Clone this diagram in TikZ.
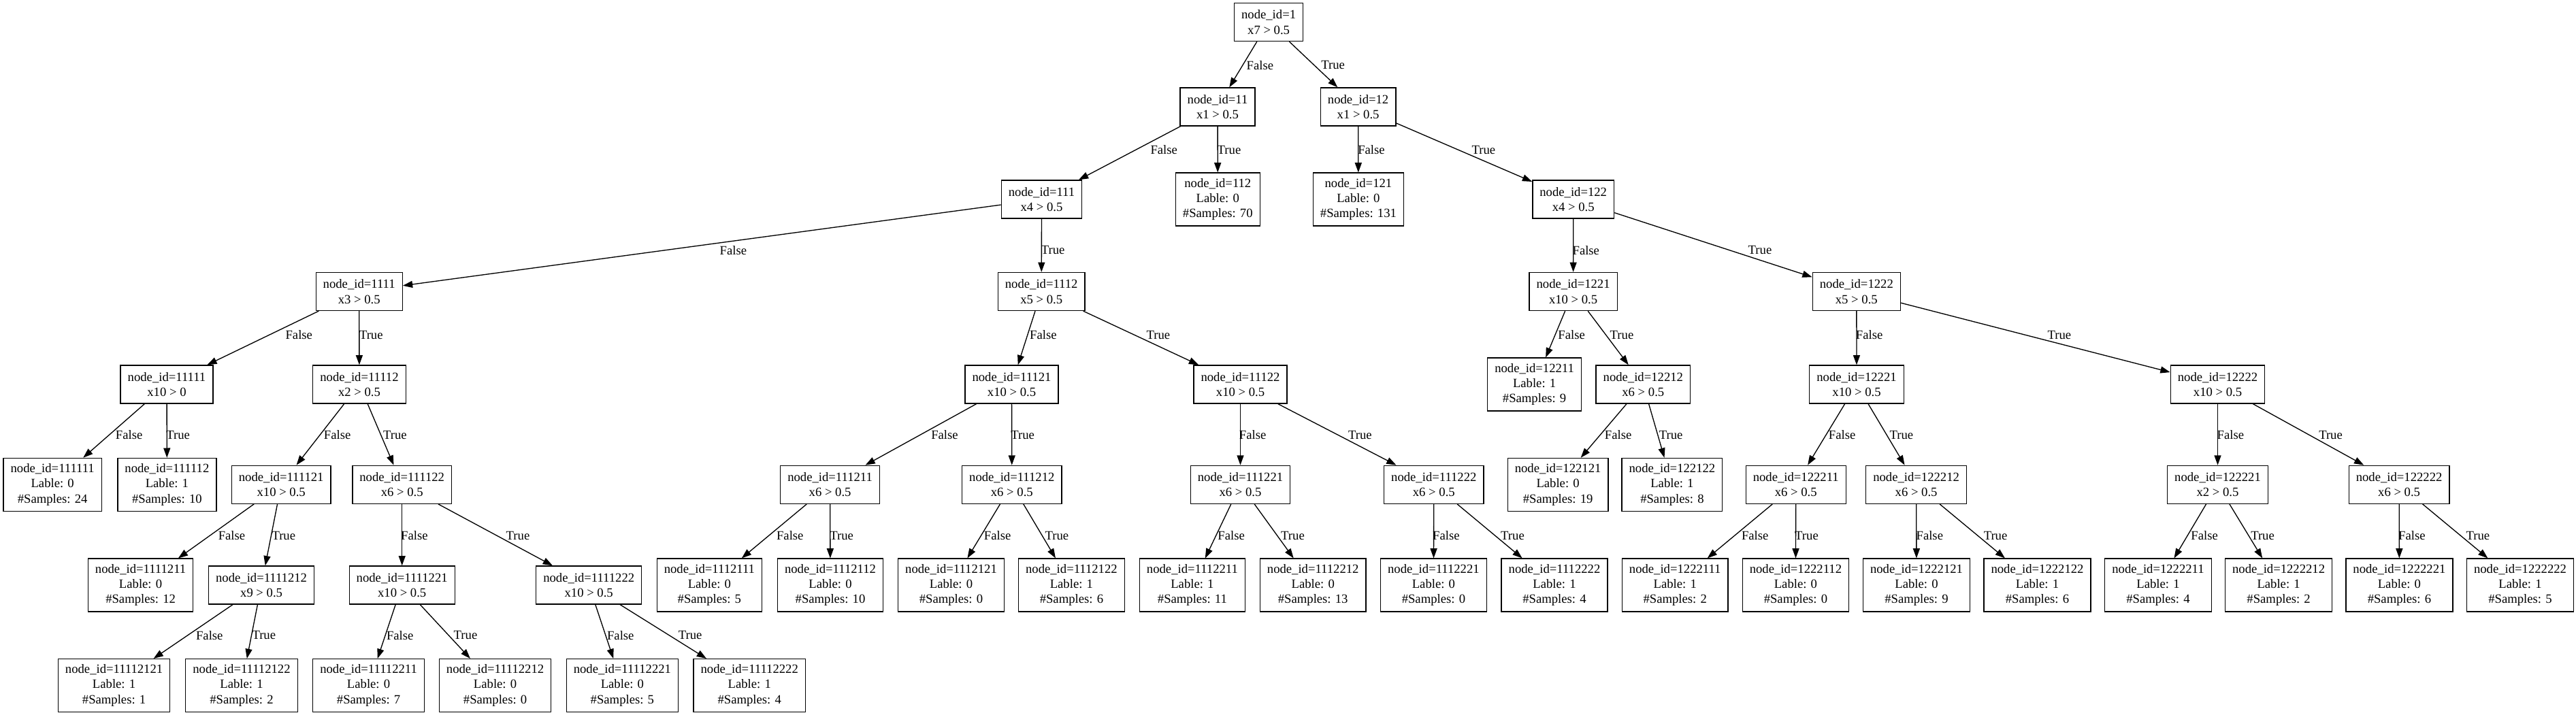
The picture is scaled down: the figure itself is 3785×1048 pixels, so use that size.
\documentclass[tikz,border=0pt]{standalone}
\usepackage{fontspec}
\setmainfont{Liberation Serif}
\usetikzlibrary{arrows.meta}
\newcommand\gvfont{\fontsize{14pt}{16.8pt}\selectfont}
\tikzset{
  inode/.style={draw=black, line width=1pt, align=center, font=\gvfont, inner xsep=7.92pt, inner ysep=0pt, minimum height=42pt},
  leaf/.style={inode, minimum height=58.3pt},
  lbl/.style={font=\gvfont, inner sep=0pt},
  edgearrow/.style={-{Triangle[length=10.7pt,width=7.5pt]}, line width=1pt, line join=miter}
}
\begin{document}
\begin{tikzpicture}[x=0.75pt,y=-0.75pt]
\fill[white] (0,0) rectangle (3785,1048);
\useasboundingbox (0,0) rectangle (3785,1048);
\def\rA{32.5}\def\rB{157}\def\rC{293}\def\rD{428.5}
\def\rE{565}\def\rF{712.3}\def\rG{860}\def\rH{1007.5}
% rank 0
\node[inode] (n1) at (1864.1,\rA) {node\_id=1\\x7 > 0.5};
% rank 1
\node[inode] (n11) at (1789,\rB) {node\_id=11\\x1 > 0.5};
\node[inode] (n12) at (1995.6,\rB) {node\_id=12\\x1 > 0.5};
% rank 2
\node[inode] (n111) at (1530.5,\rC) {node\_id=111\\x4 > 0.5};
\node[leaf] (n112) at (1789.3,\rC) {node\_id=112\\Lable: 0\\\#Samples: 70};
\node[leaf] (n121) at (1995.9,\rC) {node\_id=121\\Lable: 0\\\#Samples: 131};
\node[inode] (n122) at (2311.7,\rC) {node\_id=122\\x4 > 0.5};
% rank 3
\node[inode] (n1111) at (527.7,\rD) {node\_id=1111\\x3 > 0.5};
\node[inode] (n1112) at (1530.2,\rD) {node\_id=1112\\x5 > 0.5};
\node[inode] (n1221) at (2311.6,\rD) {node\_id=1221\\x10 > 0.5};
\node[inode] (n1222) at (2727.8,\rD) {node\_id=1222\\x5 > 0.5};
% rank 4
\node[inode] (n11111) at (245,\rE) {node\_id=11111\\x10 > 0};
\node[inode] (n11112) at (528,\rE) {node\_id=11112\\x2 > 0.5};
\node[inode] (n11121) at (1486.5,\rE) {node\_id=11121\\x10 > 0.5};
\node[inode] (n11122) at (1822.5,\rE) {node\_id=11122\\x10 > 0.5};
\node[leaf] (n12211) at (2254.6,\rE) {node\_id=12211\\Lable: 1\\\#Samples: 9};
\node[inode] (n12212) at (2414.3,\rE) {node\_id=12212\\x6 > 0.5};
\node[inode] (n12221) at (2728,\rE) {node\_id=12221\\x10 > 0.5};
\node[inode] (n12222) at (3258.5,\rE) {node\_id=12222\\x10 > 0.5};
% rank 5
\node[leaf] (n111111) at (77.2,\rF) {node\_id=111111\\Lable: 0\\\#Samples: 24};
\node[leaf] (n111112) at (245.4,\rF) {node\_id=111112\\Lable: 1\\\#Samples: 10};
\node[inode] (n111121) at (413.2,\rF) {node\_id=111121\\x10 > 0.5};
\node[inode] (n111122) at (590.7,\rF) {node\_id=111122\\x6 > 0.5};
\node[inode] (n111211) at (1219.6,\rF) {node\_id=111211\\x6 > 0.5};
\node[inode] (n111212) at (1486.8,\rF) {node\_id=111212\\x6 > 0.5};
\node[inode] (n111221) at (1822.5,\rF) {node\_id=111221\\x6 > 0.5};
\node[inode] (n111222) at (2106.8,\rF) {node\_id=111222\\x6 > 0.5};
\node[leaf] (n122121) at (2289.1,\rF) {node\_id=122121\\Lable: 0\\\#Samples: 19};
\node[leaf] (n122122) at (2456.9,\rF) {node\_id=122122\\Lable: 1\\\#Samples: 8};
\node[inode] (n122211) at (2638.7,\rF) {node\_id=122211\\x6 > 0.5};
\node[inode] (n122212) at (2815.6,\rF) {node\_id=122212\\x6 > 0.5};
\node[inode] (n122221) at (3258.5,\rF) {node\_id=122221\\x2 > 0.5};
\node[inode] (n122222) at (3525.1,\rF) {node\_id=122222\\x6 > 0.5};
% rank 6
\node[leaf] (n1111211) at (206.6,\rG) {node\_id=1111211\\Lable: 0\\\#Samples: 12};
\node[inode] (n1111212) at (384.1,\rG) {node\_id=1111212\\x9 > 0.5};
\node[inode] (n1111221) at (590.7,\rG) {node\_id=1111221\\x10 > 0.5};
\node[inode] (n1111222) at (865.2,\rG) {node\_id=1111222\\x10 > 0.5};
\node[leaf] (n1112111) at (1042.4,\rG) {node\_id=1112111\\Lable: 0\\\#Samples: 5};
\node[leaf] (n1112112) at (1220,\rG) {node\_id=1112112\\Lable: 0\\\#Samples: 10};
\node[leaf] (n1112121) at (1397.5,\rG) {node\_id=1112121\\Lable: 0\\\#Samples: 0};
\node[leaf] (n1112122) at (1574.4,\rG) {node\_id=1112122\\Lable: 1\\\#Samples: 6};
\node[leaf] (n1112211) at (1751.9,\rG) {node\_id=1112211\\Lable: 1\\\#Samples: 11};
\node[leaf] (n1112212) at (1929.2,\rG) {node\_id=1112212\\Lable: 0\\\#Samples: 13};
\node[leaf] (n1112221) at (2106.4,\rG) {node\_id=1112221\\Lable: 0\\\#Samples: 0};
\node[leaf] (n1112222) at (2284,\rG) {node\_id=1112222\\Lable: 1\\\#Samples: 4};
\node[leaf] (n1222111) at (2461.2,\rG) {node\_id=1222111\\Lable: 1\\\#Samples: 2};
\node[leaf] (n1222112) at (2638.4,\rG) {node\_id=1222112\\Lable: 0\\\#Samples: 0};
\node[leaf] (n1222121) at (2816,\rG) {node\_id=1222121\\Lable: 0\\\#Samples: 9};
\node[leaf] (n1222122) at (2993.5,\rG) {node\_id=1222122\\Lable: 1\\\#Samples: 6};
\node[leaf] (n1222211) at (3171,\rG) {node\_id=1222211\\Lable: 1\\\#Samples: 4};
\node[leaf] (n1222212) at (3348.1,\rG) {node\_id=1222212\\Lable: 1\\\#Samples: 2};
\node[leaf] (n1222221) at (3525.4,\rG) {node\_id=1222221\\Lable: 0\\\#Samples: 6};
\node[leaf] (n1222222) at (3703,\rG) {node\_id=1222222\\Lable: 1\\\#Samples: 5};
% rank 7
\node[leaf] (n11112121) at (167.6,\rH) {node\_id=11112121\\Lable: 1\\\#Samples: 1};
\node[leaf] (n11112122) at (355,\rH) {node\_id=11112122\\Lable: 1\\\#Samples: 2};
\node[leaf] (n11112211) at (541.6,\rH) {node\_id=11112211\\Lable: 0\\\#Samples: 7};
\node[leaf] (n11112212) at (727.6,\rH) {node\_id=11112212\\Lable: 0\\\#Samples: 0};
\node[leaf] (n11112221) at (914.4,\rH) {node\_id=11112221\\Lable: 0\\\#Samples: 5};
\node[leaf] (n11112222) at (1101.2,\rH) {node\_id=11112222\\Lable: 1\\\#Samples: 4};
% edges
\foreach \p/\c in {1/11,1/12,11/111,11/112,12/121,12/122,
  111/1111,111/1112,122/1221,122/1222,
  1111/11111,1111/11112,1112/11121,1112/11122,1221/12211,1221/12212,1222/12221,1222/12222,
  11111/111111,11111/111112,11112/111121,11112/111122,11121/111211,11121/111212,11122/111221,11122/111222,
  12212/122121,12212/122122,12221/122211,12221/122212,12222/122221,12222/122222,
  111121/1111211,111121/1111212,111122/1111221,111122/1111222,111211/1112111,111211/1112112,
  111212/1112121,111212/1112122,111221/1112211,111221/1112212,111222/1112221,111222/1112222,
  122211/1222111,122211/1222112,122212/1222121,122212/1222122,122221/1222211,122221/1222212,
  122222/1222221,122222/1222222,
  1111212/11112121,1111212/11112122,1111221/11112211,1111221/11112212,1111222/11112221,1111222/11112222}
  {\draw[edgearrow] (n\p) -- (n\c);}
% edge labels
\foreach \nm/\lx/\ly/\tx in {
  a1/1851.4/95.7/False, a2/1958.6/95.7/True,
  b1/1710.2/220.3/False, b2/1806/220.3/True, b3/2015/220.3/False, b4/2179.8/220.3/True,
  c1/1077.4/367.7/False, c2/1547.2/367.7/True, c3/2330.3/367.7/False, c4/2586/367.7/True,
  d1/439.3/492.2/False, d2/545.3/492.2/True, d3/1532.9/492.2/False, d4/1701.9/492.2/True,
  d5/2309.1/492.2/False, d6/2383/492.2/True, d7/2746.6/492.2/False, d8/3025.9/492.2/True,
  e1/189.6/639.5/False, e2/261.7/639.5/True, e3/495.6/639.5/False, e4/580.4/639.5/True,
  e5/1388/639.5/False, e6/1502.6/639.5/True, e7/1840.6/639.5/False, e8/1998.3/639.5/True,
  e9/2377.6/639.5/False, e10/2455.1/639.5/True, e11/2706.6/639.5/False, e12/2793.8/639.5/True,
  e13/3277.3/639.5/False, e14/3424.5/639.5/True,
  f1/340.5/787.3/False, f2/416.8/787.3/True, f3/608.9/787.3/False, f4/761/787.3/True,
  f5/1160.8/787.3/False, f6/1236.6/787.3/True, f7/1465.6/787.3/False, f8/1552.9/787.3/True,
  f9/1809.1/787.3/False, f10/1899.5/787.3/True, f11/2124.9/787.3/False, f12/2222.5/787.3/True,
  f13/2578.7/787.3/False, f14/2654.5/787.3/True, f15/2835.3/787.3/False, f16/2932/787.3/True,
  f17/3239.1/787.3/False, f18/3324.5/787.3/True, f19/3543.9/787.3/False, f20/3640.8/787.3/True,
  g1/307.8/933.7/False, g2/387.8/933.7/True, g3/587.7/933.7/False, g4/684/933.7/True,
  g5/911.8/933.7/False, g6/1014.2/933.7/True}
  {\node[lbl] (l\nm) at (\lx,\ly) {\tx};}
\end{tikzpicture}
\end{document}
